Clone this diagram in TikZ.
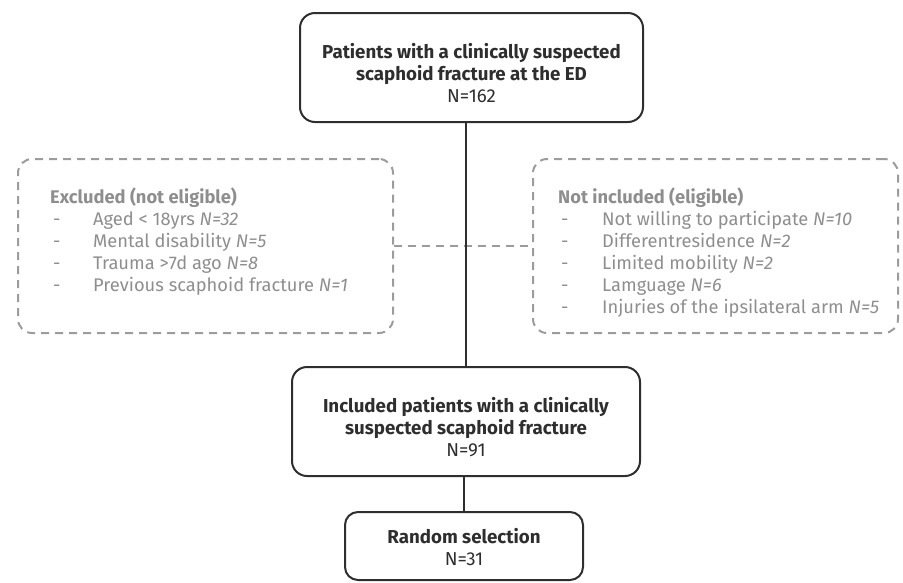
\documentclass[tikz,border=0pt]{standalone}
\usepackage{fontspec}
\setmainfont{Fira Sans}
\usetikzlibrary{positioning}
\definecolor{boxline}{HTML}{2E2E2E}
\definecolor{greyline}{HTML}{9C9C9D}
\definecolor{greytext}{HTML}{8E8E8E}
\tikzset{
  flowbox/.style={draw=boxline, line width=2pt, rounded corners=15pt, align=center, text=boxline, font=\fontsize{18.7}{22}\selectfont, inner sep=0pt},
  dashbox/.style={draw=greyline, line width=2pt, rounded corners=14pt, dash pattern=on 8pt off 6pt, inner sep=0pt},
  dashline/.style={draw=greyline, line width=2pt, dash pattern=on 8pt off 6pt},
  listtext/.style={text=greytext, font=\fontsize{18.3}{22}\selectfont, align=left, inner sep=0pt, anchor=north west},
  solidline/.style={draw=boxline, line width=2pt}
}
\newcommand{\itm}[1]{\hspace{3pt}- & #1\\}

\begin{document}
\begin{tikzpicture}[x=1pt, y=-1pt]
\useasboundingbox (0,0) rectangle (903,582);
% main boxes
\node[flowbox, minimum width=343pt, minimum height=109pt] (patients) at (471.5,67.5)
  {\rule{0pt}{26pt}\textbf{Patients with a clinically suspected}\\\textbf{scaphoid fracture at the ED}\\N=162};
\node[flowbox, minimum width=348pt, minimum height=109pt] (included) at (466,421.5)
  {\rule{0pt}{26pt}\textbf{Included patients with a clinically}\\\textbf{suspected scaphoid fracture}\\N=91};
\node[flowbox, rounded corners=13pt, minimum width=238pt, minimum height=68pt] (random) at (464,546)
  {\rule{0pt}{18pt}\textbf{Random selection}\\N=31};
% side boxes
\node[dashbox, minimum width=375pt, minimum height=174pt] (excluded) at (205.5,246) {};
\node[dashbox, minimum width=365pt, minimum height=174pt] (notincl) at (715.5,246) {};
\node[listtext] (exctext) at (50,188) {%
  \begin{tabular}{@{}p{43pt}@{}l@{}}
  \multicolumn{2}{@{}l}{\textbf{Excluded (not eligible)}}\\
  \itm{Aged < 18yrs \textit{N=32}}
  \itm{Mental disability \textit{N=5}}
  \itm{Trauma >7d ago \textit{N=8}}
  \itm{Previous scaphoid fracture \textit{N=1}}
  \end{tabular}};
\node[listtext] (nottext) at (558,188) {%
  \begin{tabular}{@{}p{44pt}@{}l@{}}
  \multicolumn{2}{@{}l}{\textbf{Not included (eligible)}}\\
  \itm{Not willing to participate \textit{N=10}}
  \itm{Differentresidence \textit{N=2}}
  \itm{Limited mobility \textit{N=2}}
  \itm{Lamguage \textit{N=6}}
  \itm{Injuries of the ipsilateral arm \textit{N=5}}
  \end{tabular}};
% connectors
\draw[dashline] (excluded.east) -- (notincl.west);
\draw[solidline] (included.north) -- (included.north |- patients.south);
\draw[solidline] (random.north) -- (random.north |- included.south);
\end{tikzpicture}
\end{document}
